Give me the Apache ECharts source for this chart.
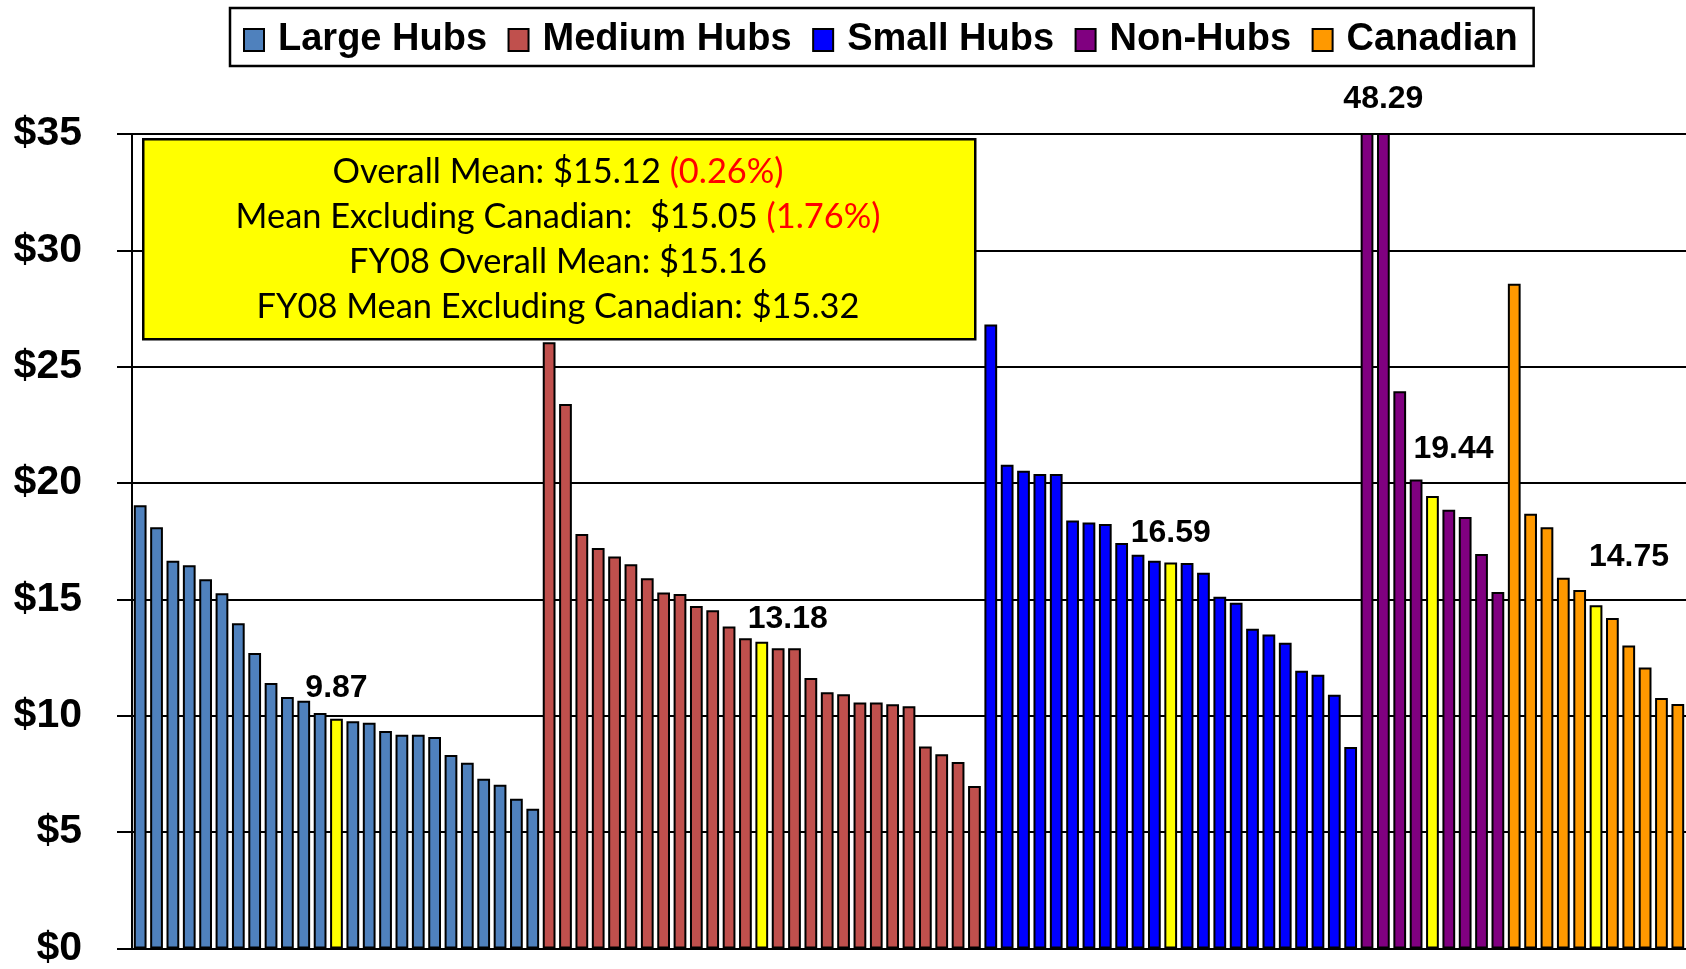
<!DOCTYPE html>
<html><head><meta charset="utf-8">
<script src="https://cdn.jsdelivr.net/npm/echarts@6/dist/echarts.min.js"></script>
<style>html,body{margin:0;padding:0;background:#fff}#c{width:1686px;height:969px}</style>
</head><body><div id="c"></div>
<script>
// ---- data ----
const groupNames = ['Large Hubs', 'Medium Hubs', 'Small Hubs', 'Non-Hubs', 'Canadian'];
const largeHubs = [19.05, 18.10, 16.66, 16.47, 15.87, 15.27, 13.98, 12.70, 11.41, 10.81, 10.65, 10.12, 9.87, 9.77, 9.70, 9.35, 9.18, 9.18, 9.09, 8.32, 7.98, 7.29, 7.04, 6.44, 6.01];
const mediumHubs = [26.05, 23.40, 17.81, 17.21, 16.85, 16.51, 15.91, 15.30, 15.23, 14.72, 14.54, 13.84, 13.33, 13.18, 12.90, 12.90, 11.62, 11.01, 10.93, 10.57, 10.57, 10.50, 10.41, 8.68, 8.35, 8.01, 6.98];
const smallHubs = [26.81, 20.79, 20.53, 20.39, 20.39, 18.39, 18.31, 18.24, 17.43, 16.92, 16.66, 16.59, 16.57, 16.15, 15.12, 14.86, 13.74, 13.49, 13.14, 11.93, 11.76, 10.90, 8.66];
const nonHubs = [50.00, 48.29, 23.95, 20.15, 19.44, 18.85, 18.54, 16.95, 15.32];
const canadian = [28.56, 18.68, 18.10, 15.93, 15.41, 14.75, 14.20, 13.02, 12.07, 10.76, 10.51];
const groupValues = [largeHubs, mediumHubs, smallHubs, nonHubs, canadian];
const highlightIndex = [12, 13, 11, 4, 5];        // yellow (mean) bars
const clippedLabel = { group: 3, index: 1 };        // bar above axis max, labelled
const yTickValues = [0, 5, 10, 15, 20, 25, 30, 35];
const boxLines = [
  ['Overall Mean: $15.12 ', '(0.26%)'],
  ['Mean Excluding Canadian:  $15.05 ', '(1.76%)'],
  ['FY08 Overall Mean: $15.16', ''],
  ['FY08 Mean Excluding Canadian: $15.32', '']
];

// ---- styles ----
const colors = ['#4F81BD', '#C0504D', '#0000FF', '#800080', '#FF9900'];
const highlightColor = '#FFFF00';
const labelShift = [[0, -15], [26, -7], [0, -13], [21, -31], [33, -32]];
const clippedShift = [0, -18];
const boldFont = 'Liberation Sans, Arial, sans-serif';

const total = groupValues.reduce((s, a) => s + a.length, 0);
const categories = Array.from({ length: total }, (_, i) => 'A' + (i + 1));

const labelBase = { show: true, position: 'top', distance: 0, fontSize: 32, fontWeight: 'bold', color: '#000', fontFamily: boldFont,
  formatter: p => Number(p.value).toFixed(2) };

let offset = 0;
const series = groupValues.map((vals, g) => {
  const data = new Array(total).fill(null);
  vals.forEach((v, i) => {
    const item = { value: v };
    if (i === highlightIndex[g]) {
      item.itemStyle = { color: highlightColor };
      item.label = Object.assign({}, labelBase, { offset: labelShift[g] });
    }
    if (g === clippedLabel.group && i === clippedLabel.index) {
      item.label = Object.assign({}, labelBase, { offset: clippedShift });
    }
    data[offset + i] = item;
  });
  offset += vals.length;
  return {
    name: groupNames[g], type: 'bar', stack: 'all', data, clip: true,
    barWidth: '78%',
    itemStyle: { color: colors[g], borderColor: '#000', borderWidth: 2 },
    emphasis: { disabled: true }, animation: false
  };
});

const graphic = [{
  type: 'rect', left: 142, top: 138, z: 100,
  shape: { width: 832, height: 200 },
  style: { fill: '#FFFF00', stroke: '#000', lineWidth: 2.5 }
}];
boxLines.forEach((ln, i) => {
  graphic.push({
    type: 'text', x: 558, y: 172 + i * 45, z: 101,
    style: {
      text: '{a|' + ln[0] + '}' + (ln[1] ? '{r|' + ln[1] + '}' : ''),
      align: 'center', verticalAlign: 'middle',
      rich: {
        a: { fontFamily: 'Lato', fontSize: 34.4, fill: '#000' },
        r: { fontFamily: 'Lato', fontSize: 34.4, fill: '#FF0000' }
      }
    }
  });
});

const chart = echarts.init(document.getElementById('c'), null, { renderer: 'canvas' });
chart.setOption({
  animation: false,
  backgroundColor: '#fff',
  grid: { left: 132, right: 0, top: 134, bottom: 19, containLabel: false },
  legend: {
    left: 230, top: 8, orient: 'horizontal',
    padding: [13, 16, 7, 13],
    borderColor: '#000', borderWidth: 2.5,
    itemWidth: 20, itemHeight: 22, itemGap: 20.5,
    icon: 'rect',
    textStyle: { fontFamily: boldFont, fontWeight: 'bold', fontSize: 38, color: '#000', padding: [0, 0, 0, 9] },
    data: groupNames
  },
  xAxis: {
    type: 'category', data: categories,
    axisLine: { lineStyle: { color: '#000', width: 2 } },
    axisTick: { show: false }, axisLabel: { show: false }
  },
  yAxis: {
    type: 'value', min: 0, max: 35, interval: 5,
    axisLine: { show: true, lineStyle: { color: '#000', width: 2 } },
    axisTick: { show: true, inside: false, length: 15, lineStyle: { color: '#000', width: 2 } },
    axisLabel: { margin: 50, fontFamily: boldFont, fontWeight: 'bold', fontSize: 41, color: '#000',
      formatter: v => yTickValues.indexOf(v) >= 0 ? '$' + v : '' },
    splitLine: { show: true, lineStyle: { color: '#000', width: 2 } }
  },
  graphic,
  series
});
</script></body></html>
